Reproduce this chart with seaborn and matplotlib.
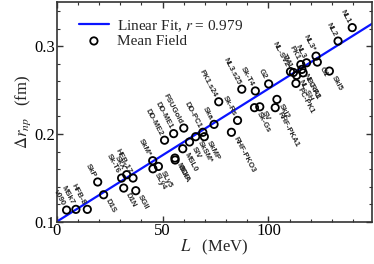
import matplotlib
matplotlib.use("Agg")
import matplotlib.pyplot as plt
from matplotlib.ticker import MultipleLocator
import numpy as np
import pandas as pd
import seaborn as sns

# slope parameter L (MeV) and neutron skin (fm) for each mean-field model
models = ['v090', 'MSk7', 'HFB-8', 'SkP', 'D1S', 'Sk-T6', 'SkX', 'HFB-17',
          'D1N', 'SGII', 'SkM*', 'SLy5', 'SLy4', 'DD-ME2', 'DD-ME1', 'FSUGold',
          'MSL0', 'MSkA', 'BCP', 'SIV', 'SkSM*', 'SkMP', 'DD-PC1', 'Ska',
          'Sk-Rs', 'RHF-PKO3', 'PK1.s24', 'NL3.s25', 'Sk-T4', 'G2', 'SkI2',
          'RHF-PKA1', 'SV', 'Sk-Gs', 'NL-SV2', 'TM1', 'NL3', 'PK1', 'NL3*',
          'G1', 'NL-RA1', 'PC-F1', 'NL-SH', 'PC-PK1', 'SkI5', 'NL2', 'NL1']
L_vals = [4.6, 9.0, 14.4, 19.3, 22.1, 30.6, 33.0, 36.0,
          31.6, 37.3, 45.3, 48.0, 45.4, 50.9, 55.2, 60.0,
          59.5, 55.8, 55.9, 62.7, 65.6, 69.7, 69.0, 74.3,
          85.4, 82.5, 76.5, 87.4, 93.8, 100.1, 104.0,
          103.2, 95.9, 93.4, 110.4, 111.8, 118.0, 115.3, 122.5,
          123.1, 115.8, 116.4, 113.3, 113.0, 128.8, 132.9, 139.6]
drnp_vals = [0.1136, 0.1144, 0.1144, 0.1455, 0.131, 0.150, 0.1538, 0.150,
             0.1386, 0.1356, 0.1697, 0.1632, 0.1605, 0.193, 0.2005, 0.2068,
             0.1833, 0.1727, 0.1705, 0.191, 0.197, 0.197, 0.202, 0.211,
             0.2155, 0.202, 0.2367, 0.251, 0.249, 0.257, 0.2394,
             0.230, 0.231, 0.230, 0.271, 0.270, 0.281, 0.279, 0.2886,
             0.2818, 0.2735, 0.2696, 0.2667, 0.2576, 0.2716, 0.3057, 0.321]
# label above-left of the point (1) or below-right (0)
label_above = [1, 1, 1, 1, 0, 1, 1, 1,
               0, 0, 1, 0, 0, 1, 1, 1,
               0, 0, 0, 0, 0, 0, 1, 1,
               1, 0, 1, 1, 1, 1, 0,
               0, 0, 0, 1, 1, 1, 1, 1,
               0, 0, 0, 0, 0, 0, 1, 1]

fit_intercept = 0.1005
fit_slope = 0.00151
fit_r = 0.979

df = pd.DataFrame({'L': L_vals, 'drnp': drnp_vals})

sns.set_style("ticks")
plt.rcParams['font.family'] = ['Liberation Serif', 'DejaVu Serif']
plt.rcParams['mathtext.fontset'] = 'stix'
plt.rcParams['axes.linewidth'] = 1.2
plt.rcParams['axes.edgecolor'] = '#333333'

fig = plt.figure(figsize=(3.74, 2.64), dpi=100)
ax = fig.add_axes([0.152, 0.159, 0.843, 0.833])

xmin, xmax = 0, 149
fit_x = np.array([xmin, xmax])
fit_df = pd.DataFrame({'L': fit_x, 'drnp': fit_intercept + fit_slope * fit_x})
sns.lineplot(data=fit_df, x='L', y='drnp', ax=ax, color='#0a14ff', lw=1.6,
             label=r'Linear Fit, $r$ = ' + f'{fit_r:.3f}', zorder=2)
sns.scatterplot(data=df, x='L', y='drnp', ax=ax, marker='o', s=28,
                facecolor='none', edgecolor='black', linewidth=1.3,
                label='Mean Field', zorder=3)

for name, x, y, up in zip(models, L_vals, drnp_vals, label_above):
    if up:
        ax.annotate(name, (x, y), xytext=(-2.4, 3.6), textcoords='offset points',
                    rotation=-62, rotation_mode='anchor', ha='right', va='center',
                    fontsize=5.6, family='Liberation Sans', fontweight='bold')
    else:
        ax.annotate(name, (x, y), xytext=(2.4, -3.6), textcoords='offset points',
                    rotation=-62, rotation_mode='anchor', ha='left', va='center',
                    fontsize=5.6, family='Liberation Sans', fontweight='bold')

ax.set_xlim(xmin, xmax)
ax.set_ylim(0.1, 0.35)
ax.xaxis.set_major_locator(MultipleLocator(50))
ax.xaxis.set_minor_locator(MultipleLocator(10))
ax.yaxis.set_major_locator(MultipleLocator(0.1))
ax.yaxis.set_minor_locator(MultipleLocator(0.02))
ax.tick_params(which='both', direction='in', top=True, right=True,
               labelsize=12, pad=1, colors='#333333', labelcolor='black')
ax.tick_params(which='major', length=4, width=1)
ax.tick_params(which='minor', length=2.5, width=0.8)
ax.set_xlabel(r'$L$   (MeV)', fontsize=12, labelpad=-1)
ax.set_ylabel(r'$\Delta r_{np}$   (fm)', fontsize=12, labelpad=1)

ax.legend(loc='upper left', bbox_to_anchor=(0.04, 0.97), frameon=False,
          fontsize=11, handlelength=2.0, handletextpad=0.5,
          borderpad=0.1, labelspacing=0.05)

fig.savefig('out.png', dpi=100)
